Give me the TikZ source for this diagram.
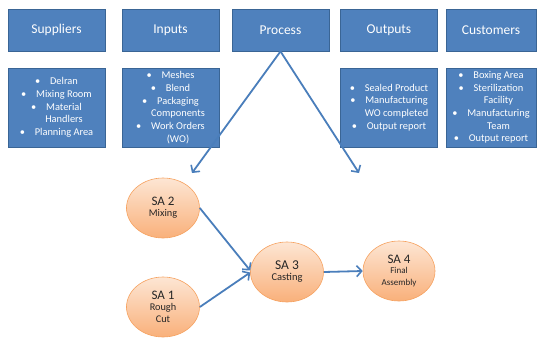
\documentclass[tikz,border=0pt]{standalone}
\usepackage{fontspec}
\setmainfont{Carlito}
\usetikzlibrary{arrows.meta,shapes.geometric}
\definecolor{boxblue}{HTML}{4F81BD}
\definecolor{boxedge}{HTML}{3A6595}
\definecolor{arrowblue}{HTML}{4A7EBB}
\definecolor{peachtop}{HTML}{FDE6D4}
\definecolor{peachbot}{HTML}{F9B07A}
\definecolor{peachedge}{HTML}{F6A260}
\newcommand{\bitem}[1]{\makebox[15pt][l]{\textbullet}#1}
\newcommand{\bcont}[1]{\hspace*{15pt}#1}
\tikzset{
  header/.style={draw=boxedge, line width=0.8pt, fill=boxblue, text=white,
    minimum width=97pt, minimum height=42pt, inner sep=0pt,
    font=\fontsize{13.5}{16}\selectfont},
  detail/.style={draw=boxedge, line width=0.8pt, fill=boxblue, text=white,
    minimum width=97pt, minimum height=79pt, inner sep=0pt, align=center,
    font=\fontsize{10.4}{12.7}\selectfont},
  sa/.style={ellipse, draw=peachedge, line width=0.6pt, top color=peachtop,
    bottom color=peachbot, minimum width=73pt, minimum height=60pt,
    inner sep=0pt, align=center, text=black!85},
  conn/.style={draw=arrowblue, line width=1.8pt,
    -{Straight Barb[length=5pt,width=11pt,line width=1.6pt]}},
  plain/.style={draw=arrowblue, line width=1.8pt}
}
\begin{document}
\begin{tikzpicture}[x=1pt,y=-1pt]
\useasboundingbox (0,0) rectangle (537,337);
% header row
\node[header] (sup) at (56.5,30) {Suppliers};
\node[header] (inp) at (170.5,30) {Inputs};
\node[header] (proc) at (280.5,30) {Process};
\node[header] (out) at (389,30) {Outputs};
\node[header, minimum width=90pt] (cus) at (491,30) {Customers};
% detail row
\node[detail] (supd) at (56.5,107.5) {\bitem{Delran}\\ \bitem{Mixing Room}\\ \bitem{Material}\\ \bcont{Handlers}\\ \bitem{Planning Area}};
\node[detail] (inpd) at (170.5,107.5) {\bitem{Meshes}\\ \bitem{Blend}\\ \bitem{Packaging}\\ \bcont{Components}\\ \bitem{Work Orders}\\ \bcont{(WO)}};
\node[detail] (outd) at (389,107.5) {\bitem{Sealed Product}\\ \bitem{Manufacturing}\\ \bcont{WO completed}\\ \bitem{Output report}};
\node[detail, minimum width=90pt] (cusd) at (491,107.5) {\bitem{Boxing Area}\\ \bitem{Sterilization}\\ \bcont{Facility}\\ \bitem{Manufacturing}\\ \bcont{Team}\\ \bitem{Output report}};
% process ellipses
\node[sa] (sa2) at (163,208) {\fontsize{13}{14}\selectfont SA 2\\[-1pt] \fontsize{10.3}{12}\selectfont Mixing};
\node[sa] (sa1) at (163,307) {\fontsize{13}{14}\selectfont SA 1\\[-1pt] \fontsize{10.3}{13}\selectfont Rough\\ \fontsize{10.3}{13}\selectfont Cut};
\node[sa] (sa3) at (287,272) {\fontsize{13.5}{14}\selectfont SA 3\\[-1pt] \fontsize{10.5}{12}\selectfont Casting};
\node[sa, minimum width=72pt] (sa4) at (399,271) {\fontsize{13}{14}\selectfont SA 4\\[-2pt] \fontsize{9}{11}\selectfont Final\\ \fontsize{9}{11}\selectfont Assembly};
% connectors
\coordinate (tipL) at (192,173);
\coordinate (tipR) at (359,173);
\draw[conn] (proc.south) -- (tipL);
\draw[conn] (proc.south) -- (tipR);
\draw[conn] (sa2.east) -- ([yshift=1.5pt]sa3.west);
\draw[conn] (sa1.east) -- ([yshift=-0.5pt]sa3.west);
\draw[conn] (sa3.east) -- (sa4.west);
\end{tikzpicture}
\end{document}
